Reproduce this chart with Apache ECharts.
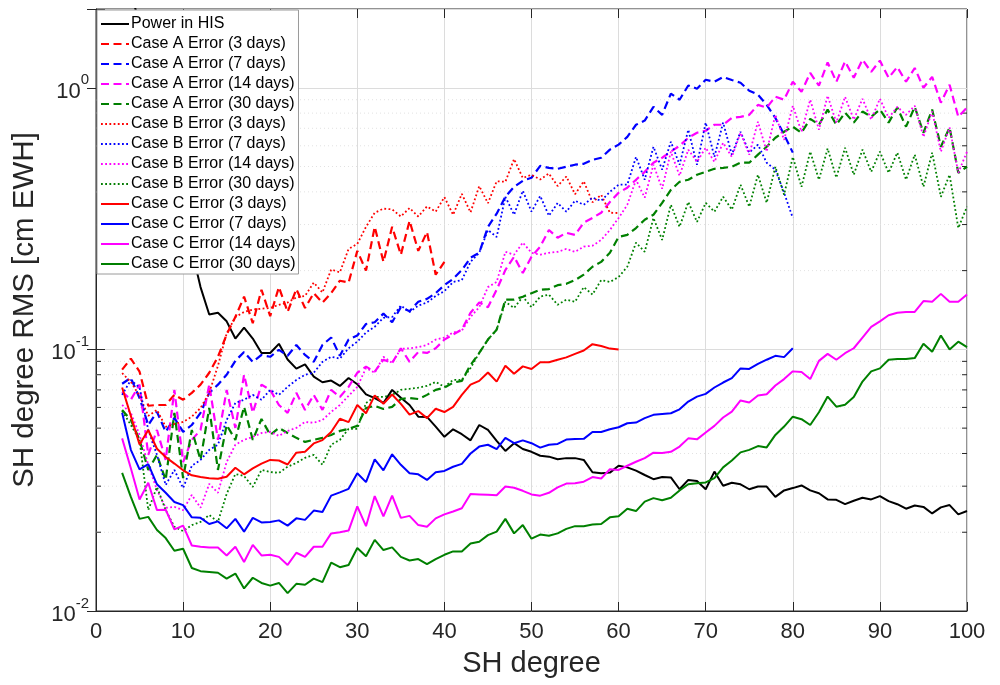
<!DOCTYPE html>
<html>
<head>
<meta charset="utf-8">
<script src="https://cdn.jsdelivr.net/npm/echarts@6/dist/echarts.min.js"></script>
<style>
  html, body { margin: 0; padding: 0; background: #fff; }
  #chart { width: 1000px; height: 685px; }
</style>
</head>
<body>
<div id="chart"></div>
<script>
// SH degree of the first point of every curve
var startDegree = 3;

var xTicks = [0, 10, 20, 30, 40, 50, 60, 70, 80, 90, 100];
var yMajorTicks = [0.01, 0.1, 1];
var yMinorTicks = [0.02, 0.03, 0.04, 0.05, 0.06, 0.07, 0.08, 0.09,
                   0.2, 0.3, 0.4, 0.5, 0.6, 0.7, 0.8, 0.9];

var powerHIS = [3.0, 2.4, 1.7, 1.25, 0.9, 0.65, 0.47, 0.34, 0.24,
  0.173, 0.136, 0.138, 0.128, 0.110, 0.121, 0.110, 0.0969, 0.0969, 0.105, 0.0915, 0.0844, 0.0876, 0.0787, 0.0749, 0.0760,
  0.0725, 0.0777, 0.0736, 0.0673, 0.0651, 0.0624, 0.0700, 0.0653, 0.0613, 0.0553, 0.0552, 0.0507, 0.0463, 0.0495, 0.0474, 0.0449,
  0.0514, 0.0492, 0.0447, 0.0409, 0.0438, 0.0416, 0.0406, 0.0392, 0.0389, 0.0380, 0.0384, 0.0384, 0.0378, 0.0339, 0.0336, 0.0338,
  0.0359, 0.0354, 0.0344, 0.0331, 0.0319, 0.0325, 0.0324, 0.0292, 0.0317, 0.0314, 0.0292, 0.0341, 0.0301, 0.0309, 0.0305, 0.0292,
  0.0299, 0.0299, 0.0273, 0.0289, 0.0295, 0.0302, 0.0289, 0.0282, 0.0267, 0.0266, 0.0256, 0.0264, 0.0271, 0.0267, 0.0275, 0.0263,
  0.0256, 0.0246, 0.0253, 0.0250, 0.0236, 0.0249, 0.0254, 0.0234, 0.0241];

var caseA3 = [0.0837, 0.0922, 0.0822, 0.0609, 0.0613, 0.0613, 0.0670, 0.0642, 0.0682, 0.0733, 0.0814, 0.0937, 0.114, 0.133,
  0.159, 0.126, 0.169, 0.134, 0.173, 0.139, 0.170, 0.144, 0.164, 0.151, 0.164, 0.183, 0.180, 0.238, 0.200, 0.294, 0.216, 0.294,
  0.230, 0.310, 0.238, 0.281, 0.193, 0.216];

var caseA7 = [0.0739, 0.0778, 0.0652, 0.0514, 0.0577, 0.0484, 0.0547, 0.0484, 0.0514, 0.0572, 0.0682, 0.0733, 0.0800, 0.0904,
  0.0977, 0.0896, 0.0952, 0.0937,
  0.0996, 0.0945, 0.104, 0.0952, 0.0896, 0.104, 0.111, 0.0945, 0.109, 0.113, 0.125, 0.127, 0.137, 0.127, 0.145, 0.140, 0.152,
  0.156, 0.164, 0.176,
  0.186, 0.201, 0.224, 0.234, 0.294, 0.330, 0.383, 0.418, 0.441, 0.453, 0.503, 0.494, 0.490, 0.499, 0.508, 0.512, 0.530, 0.540,
  0.580, 0.606,
  0.649, 0.722, 0.749, 0.845, 0.788, 0.950, 0.900, 1.02, 0.992, 1.073, 1.054, 1.10, 1.07, 1.045, 0.974, 0.941, 0.86, 0.767,
  0.662, 0.565];

var caseA14 = [0.0689, 0.0642, 0.0733, 0.0395, 0.0492, 0.0378, 0.0700, 0.0371, 0.0451, 0.0492, 0.0733, 0.0451, 0.0700, 0.0501,
  0.0800, 0.0572, 0.0733, 0.0700, 0.0613, 0.0572,
  0.0682, 0.0587, 0.0670, 0.0587, 0.0700, 0.0658, 0.0719, 0.0814, 0.0859, 0.0822, 0.0913, 0.0888, 0.101, 0.0896, 0.0977, 0.0969,
  0.101, 0.109, 0.114, 0.119,
  0.138, 0.151, 0.145, 0.169, 0.201, 0.226, 0.196, 0.226, 0.247, 0.286, 0.267, 0.279, 0.274, 0.305, 0.318, 0.333, 0.366, 0.397,
  0.415, 0.445,
  0.477, 0.517, 0.540, 0.570, 0.600, 0.644, 0.673, 0.685, 0.722, 0.722, 0.767, 0.774, 0.788, 0.860, 0.840, 0.924, 0.900, 1.054,
  0.965, 1.14,
  1.018, 1.25, 1.054, 1.26, 1.092, 1.28, 1.15, 1.27, 1.092, 1.20, 1.054, 1.19, 1.00, 1.10, 0.877, 1.027, 0.775, 0.84];

var caseA30 = [0.0587, 0.0537, 0.0451, 0.0346, 0.0395, 0.0317, 0.0572, 0.0322, 0.0492, 0.0378, 0.0597, 0.0346, 0.0514, 0.0451,
  0.0603, 0.0451, 0.0542, 0.0471, 0.0501, 0.0479,
  0.0459, 0.0443, 0.0451, 0.0459, 0.0471, 0.0488, 0.0497, 0.0510, 0.0597, 0.0608, 0.0592, 0.0603, 0.0646, 0.0652, 0.0646, 0.0670,
  0.0700, 0.0714, 0.0746, 0.0758,
  0.0872, 0.0969, 0.109, 0.119, 0.155, 0.155, 0.159, 0.164, 0.169, 0.170, 0.176, 0.178, 0.184, 0.193, 0.207, 0.216, 0.234, 0.269,
  0.274, 0.291,
  0.313, 0.327, 0.363, 0.407, 0.437, 0.445, 0.465, 0.477, 0.490, 0.494, 0.499, 0.517, 0.517, 0.555, 0.595, 0.644, 0.679, 0.710,
  0.673, 0.761,
  0.722, 0.825, 0.722, 0.803, 0.736, 0.811, 0.775, 0.825, 0.736, 0.840, 0.710, 0.845, 0.673, 0.825, 0.595, 0.705, 0.473, 0.499];

var caseB3 = [0.0812, 0.0751, 0.0664, 0.0557, 0.0587, 0.0506, 0.0519, 0.0528, 0.0553, 0.0597, 0.0682, 0.0865, 0.115, 0.133,
  0.139, 0.142, 0.143, 0.144, 0.148, 0.151,
  0.158, 0.160, 0.180, 0.165, 0.202, 0.197, 0.242, 0.253, 0.294, 0.333, 0.345, 0.343, 0.322, 0.347, 0.322, 0.352, 0.336, 0.382,
  0.327, 0.393,
  0.334, 0.421, 0.362, 0.439, 0.437, 0.534, 0.452, 0.465, 0.446, 0.470, 0.421, 0.458, 0.392, 0.439, 0.365, 0.390, 0.333, 0.332];

var caseB7 = [0.0670, 0.0764, 0.0714, 0.0492, 0.0395, 0.0303, 0.0346, 0.0295, 0.0359, 0.0378, 0.0413, 0.0432, 0.0537, 0.0624,
  0.0642, 0.0670, 0.0642, 0.0700, 0.0670, 0.0719,
  0.0764, 0.0800, 0.0814, 0.0896, 0.0937, 0.0922, 0.101, 0.107, 0.116, 0.122, 0.132, 0.133, 0.147, 0.139, 0.147, 0.151, 0.160,
  0.167, 0.181, 0.184,
  0.216, 0.234, 0.286, 0.269, 0.383, 0.327, 0.404, 0.336, 0.386, 0.324, 0.363, 0.336, 0.370, 0.357, 0.380, 0.370, 0.400, 0.426,
  0.426, 0.544,
  0.445, 0.595, 0.486, 0.622, 0.508, 0.691, 0.508, 0.736, 0.544, 0.736, 0.555, 0.679, 0.565, 0.606, 0.517, 0.486, 0.397, 0.318];

var caseB14 = [0.0613, 0.0572, 0.0471, 0.0362, 0.0290, 0.0248, 0.0250, 0.0243, 0.0278, 0.0248, 0.0306, 0.0283, 0.0371, 0.0432,
  0.0451, 0.0463, 0.0479, 0.0484, 0.0467, 0.0488,
  0.0501, 0.0528, 0.0524, 0.0537, 0.0577, 0.0613, 0.0664, 0.0719, 0.0849, 0.0814, 0.0937, 0.0888, 0.1004, 0.101, 0.102, 0.104,
  0.109, 0.111, 0.116, 0.118,
  0.133, 0.145, 0.173, 0.181, 0.236, 0.230, 0.256, 0.234, 0.230, 0.234, 0.236, 0.242, 0.236, 0.247, 0.249, 0.262, 0.286, 0.318,
  0.357, 0.445,
  0.380, 0.508, 0.411, 0.570, 0.461, 0.580, 0.521, 0.590, 0.521, 0.616, 0.544, 0.673, 0.555, 0.742, 0.570, 0.788, 0.632, 0.853,
  0.679, 0.900,
  0.691, 0.933, 0.736, 0.924, 0.755, 0.908, 0.755, 0.908, 0.767, 0.845, 0.788, 0.853, 0.649, 0.811, 0.570, 0.705, 0.473, 0.570];

var caseB30 = [0.0582, 0.0514, 0.0451, 0.0243, 0.0298, 0.0243, 0.0210, 0.0202, 0.0213, 0.0219, 0.0233, 0.0219, 0.0280, 0.0334,
  0.0328, 0.0298, 0.0346, 0.0340, 0.0337, 0.0356,
  0.0368, 0.0385, 0.0395, 0.0362, 0.0432, 0.0451, 0.0497, 0.0497, 0.0624, 0.0658, 0.0658, 0.0670, 0.0700, 0.0707, 0.0714, 0.0725,
  0.0751, 0.0719, 0.0764, 0.0764,
  0.0849, 0.0969, 0.109, 0.119, 0.152, 0.144, 0.159, 0.145, 0.159, 0.162, 0.148, 0.155, 0.152, 0.173, 0.162, 0.184, 0.181, 0.189,
  0.207, 0.256,
  0.236, 0.318, 0.262, 0.357, 0.294, 0.366, 0.307, 0.363, 0.336, 0.383, 0.342, 0.426, 0.351, 0.465, 0.363, 0.499, 0.390, 0.544,
  0.418, 0.570,
  0.445, 0.586, 0.453, 0.590, 0.465, 0.580, 0.477, 0.570, 0.473, 0.565, 0.445, 0.555, 0.418, 0.565, 0.383, 0.465, 0.291, 0.351];

var caseC3 = [0.0715, 0.0557, 0.0433, 0.0492, 0.0417, 0.0388, 0.0366, 0.0345, 0.0330, 0.0325, 0.0322, 0.0320, 0.0326, 0.0353,
  0.0333, 0.0351, 0.0366, 0.0378, 0.0376, 0.0363,
  0.0403, 0.0406, 0.0437, 0.0450, 0.0483, 0.0543, 0.0527, 0.0613, 0.0570, 0.0667, 0.0620, 0.0672, 0.0619, 0.0563, 0.0581, 0.0546,
  0.0593, 0.0576, 0.0603, 0.0670,
  0.0733, 0.0758, 0.0816, 0.0753, 0.0865, 0.0807, 0.0861, 0.0841, 0.0893, 0.0893, 0.0913, 0.0932, 0.0961, 0.0990, 0.1047, 0.103,
  0.1007, 0.0998];

var caseC7 = [0.0572, 0.0413, 0.0348, 0.0364, 0.0305, 0.0283, 0.0261, 0.0254, 0.0228, 0.0227, 0.0215, 0.0220, 0.0207, 0.0225,
  0.0201, 0.0227, 0.0218, 0.0219, 0.0222, 0.0212,
  0.0226, 0.0223, 0.0242, 0.0239, 0.0276, 0.0284, 0.0293, 0.0336, 0.0311, 0.0380, 0.0345, 0.0397, 0.0362, 0.0336, 0.0333, 0.0317,
  0.0339, 0.0343, 0.0356, 0.0365,
  0.0400, 0.0425, 0.0432, 0.0416, 0.0459, 0.0438, 0.0449, 0.0438, 0.0421, 0.0432, 0.0435, 0.0452, 0.0454, 0.0455, 0.0483, 0.0483,
  0.0495, 0.0504, 0.0522, 0.0525,
  0.0546, 0.0562, 0.0566, 0.0570, 0.0590, 0.0632, 0.0660, 0.0676, 0.0715, 0.0747, 0.0776, 0.0846, 0.0842, 0.0880, 0.0913, 0.0945,
  0.0934, 0.101];

var caseC14 = [0.0457, 0.0351, 0.0267, 0.0309, 0.0243, 0.0244, 0.0205, 0.0212, 0.0178, 0.0176, 0.0175, 0.0175, 0.0163, 0.0176,
  0.0154, 0.0179, 0.0163, 0.0164, 0.0161, 0.0150,
  0.0167, 0.0161, 0.0176, 0.0176, 0.0198, 0.0200, 0.0203, 0.0251, 0.0211, 0.0275, 0.0230, 0.0276, 0.0227, 0.0231, 0.0213, 0.0210,
  0.0226, 0.0234, 0.0240, 0.0247,
  0.0280, 0.0279, 0.0278, 0.0277, 0.0299, 0.0296, 0.0288, 0.0279, 0.0276, 0.0283, 0.0297, 0.0307, 0.0308, 0.0312, 0.0325, 0.0321,
  0.0348, 0.0346, 0.0359, 0.0372,
  0.0384, 0.0403, 0.0402, 0.0406, 0.0425, 0.0457, 0.0453, 0.0481, 0.0510, 0.0549, 0.0578, 0.0638, 0.0627, 0.0666, 0.0674, 0.0728,
  0.0770, 0.0824, 0.0819, 0.0770,
  0.0904, 0.0961, 0.0913, 0.0967, 0.101, 0.111, 0.122, 0.128, 0.135, 0.138, 0.139, 0.139, 0.153, 0.152, 0.163, 0.152, 0.152, 0.162];

var caseC30 = [0.0337, 0.0273, 0.0225, 0.0229, 0.0204, 0.0190, 0.0170, 0.0173, 0.0146, 0.0142, 0.0141, 0.0140, 0.0133, 0.0139,
  0.0122, 0.0134, 0.0128, 0.0125, 0.0128, 0.0117,
  0.0127, 0.0126, 0.0133, 0.0129, 0.0153, 0.0147, 0.0150, 0.0174, 0.0162, 0.0187, 0.0171, 0.0175, 0.0161, 0.0156, 0.0158, 0.0151,
  0.0158, 0.0164, 0.0169, 0.0169,
  0.0181, 0.0184, 0.0195, 0.0201, 0.0225, 0.0198, 0.0213, 0.0189, 0.0196, 0.0194, 0.0198, 0.0206, 0.0211, 0.0211, 0.0214, 0.0215,
  0.0228, 0.0230, 0.0246, 0.0241,
  0.0262, 0.0270, 0.0265, 0.0271, 0.0289, 0.0305, 0.0308, 0.0310, 0.0322, 0.0354, 0.0376, 0.0404, 0.0413, 0.0427, 0.0422, 0.0471,
  0.0507, 0.0553, 0.0541, 0.0514,
  0.0575, 0.0660, 0.0604, 0.0614, 0.0657, 0.0753, 0.0824, 0.0846, 0.0913, 0.0918, 0.0918, 0.0926, 0.105, 0.098, 0.113, 0.100,
  0.107, 0.102];

var FONT = '"Liberation Sans", Arial, Helvetica, sans-serif';
var TXT = '#262626';

// [name, values, colour, line kind]
var curves = [
  ['Power in HIS', powerHIS, '#000000', 'solid'],
  ['Case A Error (3 days)', caseA3, '#ff0000', 'dash'],
  ['Case A Error (7 days)', caseA7, '#0000ff', 'dash'],
  ['Case A Error (14 days)', caseA14, '#ff00ff', 'dash'],
  ['Case A Error (30 days)', caseA30, '#008000', 'dash'],
  ['Case B Error (3 days)', caseB3, '#ff0000', 'dot'],
  ['Case B Error (7 days)', caseB7, '#0000ff', 'dot'],
  ['Case B Error (14 days)', caseB14, '#ff00ff', 'dot'],
  ['Case B Error (30 days)', caseB30, '#008000', 'dot'],
  ['Case C Error (3 days)', caseC3, '#ff0000', 'solid'],
  ['Case C Error (7 days)', caseC7, '#0000ff', 'solid'],
  ['Case C Error (14 days)', caseC14, '#ff00ff', 'solid'],
  ['Case C Error (30 days)', caseC30, '#008000', 'solid']
];

function toPairs(values) {
  return values.map(function (v, i) { return [startDegree + i, v]; });
}

function powerLabel(v) {
  var e = Math.log(v) / Math.LN10;
  var r = Math.round(e);
  if (Math.abs(e - r) > 1e-6) return '';
  return '{b|10}{sup|' + r + '}';
}

var seriesList = curves.map(function (c) {
  var lineType = 'solid', width = 2;
  if (c[3] === 'dash') { lineType = [8, 4.5]; width = 2.2; }
  if (c[3] === 'dot') { lineType = [1.8, 2.4]; width = 1.8; }
  return {
    name: c[0],
    type: 'line',
    data: toPairs(c[1]),
    symbol: 'none',
    showSymbol: false,
    clip: true,
    silent: true,
    animation: false,
    color: c[2],
    itemStyle: { color: c[2] },
    lineStyle: { color: c[2], width: width, type: lineType },
    emphasis: { disabled: true }
  };
});

// minor log grid lines and minor ticks on both y sides
seriesList.unshift({
  name: 'minor',
  type: 'custom',
  silent: true,
  animation: false,
  z: 1,
  data: yMinorTicks.map(function (v) { return [0, v]; }),
  renderItem: function (params, api) {
    var v = api.value(1);
    var pl = api.coord([0, v]);
    var pr = api.coord([100, v]);
    return {
      type: 'group',
      children: [
        { type: 'line', shape: { x1: pl[0], y1: pl[1], x2: pr[0], y2: pr[1] },
          style: { stroke: '#e2e2e2', lineWidth: 1, lineDash: [1, 3] } },
        { type: 'line', shape: { x1: pl[0], y1: pl[1], x2: pl[0] + 5, y2: pl[1] },
          style: { stroke: TXT, lineWidth: 1 } },
        { type: 'line', shape: { x1: pr[0] - 5, y1: pr[1], x2: pr[0], y2: pr[1] },
          style: { stroke: TXT, lineWidth: 1 } }
      ]
    };
  }
});

var chart = echarts.init(document.getElementById('chart'), null, { renderer: 'canvas' });

var option = {
  backgroundColor: '#ffffff',
  animation: false,
  textStyle: { fontFamily: FONT },
  grid: {
    left: 96, right: 33, top: 9, bottom: 74,
    show: true, borderColor: TXT, borderWidth: 1, backgroundColor: '#ffffff'
  },
  legend: {
    data: curves.map(function (c) { return c[0]; }),
    orient: 'vertical',
    left: 97, top: 10,
    backgroundColor: '#ffffff',
    borderColor: '#9a9a9a',
    borderWidth: 1,
    borderRadius: 0,
    padding: [6, 3, 2, 3],
    itemGap: 4,
    itemWidth: 28,
    itemHeight: 14,
    selectedMode: false,
    itemStyle: { opacity: 0 },
    textStyle: { fontFamily: FONT, fontSize: 16, lineHeight: 16, color: '#000', padding: [0, 0, 0, -3] }
  },
  xAxis: [{
    type: 'value',
    min: xTicks[0], max: xTicks[xTicks.length - 1], interval: 10,
    name: 'SH degree',
    nameLocation: 'middle',
    nameGap: 38,
    nameTextStyle: { fontFamily: FONT, fontSize: 29, color: TXT },
    axisLine: { show: true, onZero: false, lineStyle: { color: TXT, width: 1 } },
    axisTick: { show: true, inside: true, length: 9, lineStyle: { color: TXT } },
    axisLabel: { fontFamily: FONT, fontSize: 22, color: TXT, margin: 10 },
    splitLine: { show: true, lineStyle: { color: '#dcdcdc', width: 1 } }
  }, {
    type: 'value', position: 'top',
    min: xTicks[0], max: xTicks[xTicks.length - 1], interval: 10,
    axisLine: { show: false },
    axisTick: { show: true, inside: true, length: 9, lineStyle: { color: TXT } },
    axisLabel: { show: false },
    splitLine: { show: false }
  }],
  yAxis: [{
    type: 'log', logBase: 10,
    min: yMajorTicks[0], max: 2,
    name: 'SH degree RMS [cm EWH]',
    nameLocation: 'middle',
    nameGap: 54,
    nameTextStyle: { fontFamily: FONT, fontSize: 29.5, color: TXT },
    axisLine: { show: true, lineStyle: { color: TXT, width: 1 } },
    axisTick: { show: true, inside: true, length: 9, lineStyle: { color: TXT } },
    axisLabel: {
      margin: 7,
      formatter: powerLabel,
      rich: {
        b: { fontFamily: FONT, fontSize: 22, color: TXT, lineHeight: 30, verticalAlign: 'bottom' },
        sup: { fontFamily: FONT, fontSize: 15, color: TXT, lineHeight: 30, verticalAlign: 'top' }
      }
    },
    splitLine: { show: true, lineStyle: { color: '#dcdcdc', width: 1 } }
  }, {
    type: 'log', logBase: 10, position: 'right',
    min: yMajorTicks[0], max: 2,
    axisLine: { show: false },
    axisTick: { show: true, inside: true, length: 9, lineStyle: { color: TXT } },
    axisLabel: { show: false },
    splitLine: { show: false }
  }],
  series: seriesList
};

chart.setOption(option);
</script>
</body>
</html>
